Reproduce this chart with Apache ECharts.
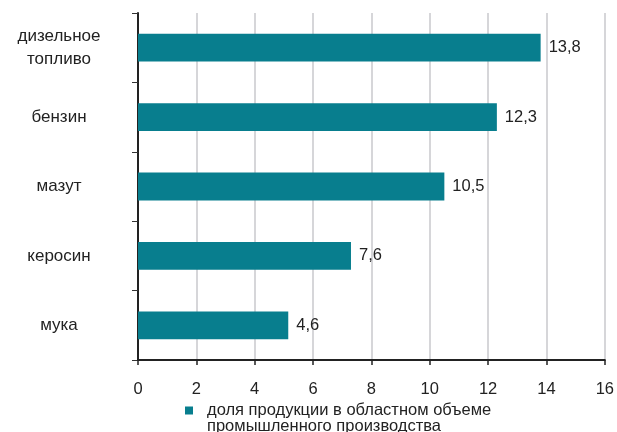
<!DOCTYPE html>
<html>
<head>
<meta charset="utf-8">
<script src="https://cdn.jsdelivr.net/npm/echarts@6/dist/echarts.min.js"></script>
<style>html,body{margin:0;padding:0;background:#fff}#c{width:617px;height:432px}</style>
</head>
<body>
<div id="c"></div>
<script>
var categories = ['дизельное\nтопливо', 'бензин', 'мазут', 'керосин', 'мука'];
var barValues = [13.8, 12.3, 10.5, 7.3, 5.15];
var valueLabels = ['13,8', '12,3', '10,5', '7,6', '4,6'];
var legendLines = ['доля продукции в областном объеме', 'промышленного производства'];
var xTicks = [0, 2, 4, 6, 8, 10, 12, 14, 16];

var chart = echarts.init(document.getElementById('c'), null, {renderer: 'canvas'});
var font = 'Liberation Sans, Arial, sans-serif';
chart.setOption({
  animation: false,
  grid: {left: 138, right: 10, top: 13, bottom: 72, containLabel: false},
  legend: {
    data: [legendLines[0]],
    left: 185, top: 402,
    itemWidth: 8, itemHeight: 8, itemGap: 0,
    icon: 'rect',
    padding: 0,
    selectedMode: false,
    textStyle: {fontFamily: font, fontSize: 16.5, color: '#222', padding: [0, 0, 0, 9]}
  },
  graphic: [{
    type: 'text', left: 207, top: 418,
    style: {text: legendLines[1], font: '16.5px ' + font, fill: '#222'}
  }],
  xAxis: {
    type: 'value', min: xTicks[0], max: xTicks[xTicks.length - 1], interval: 2,
    axisLine: {show: true, lineStyle: {color: '#222', width: 2}},
    axisTick: {show: true, length: 5, lineStyle: {color: '#222', width: 1.5}},
    axisLabel: {fontFamily: font, fontSize: 16.5, color: '#222', margin: 21},
    splitLine: {show: true, lineStyle: {color: '#c8c8cc', width: 1.5}}
  },
  yAxis: {
    type: 'category', data: categories, inverse: true,
    axisLine: {show: true, lineStyle: {color: '#222', width: 2}},
    axisTick: {show: true, length: 6, lineStyle: {color: '#333', width: 1}},
    axisLabel: {fontFamily: font, fontSize: 17, color: '#222', margin: 79, align: 'center', lineHeight: 23}
  },
  series: [{
    name: legendLines[0],
    type: 'bar',
    data: barValues,
    barCategoryGap: '60%',
    itemStyle: {color: '#087e8e'},
    label: {
      show: true, position: 'right', distance: 8,
      fontFamily: font, fontSize: 16.5, color: '#222',
      formatter: function (p) { return valueLabels[p.dataIndex]; }
    }
  }]
});
</script>
</body>
</html>
